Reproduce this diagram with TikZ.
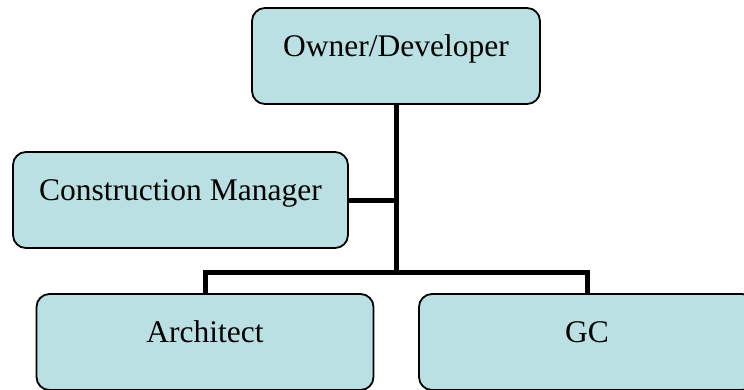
\documentclass[tikz,border=0pt]{standalone}
\usepackage{fontspec}
\setmainfont{Liberation Serif}
\usepackage{tikz}
\usetikzlibrary{positioning}

\definecolor{boxfill}{RGB}{186,224,227}
\tikzset{
    orgbox/.style = {draw, rectangle, rounded corners = 13pt, line width = 1.8pt,
                     fill = boxfill, inner sep = 0pt, text height = 48pt,
                     text depth = 48pt, font = \fontsize{31.5}{36}\selectfont},
    orgline/.style = {line width = 5pt, line join = miter}
}

\begin{document}
\begin{tikzpicture}[x = 1pt, y = -1pt]
        \useasboundingbox (0, 0) rectangle (744, 389);

        \node [orgbox, minimum width = 288pt] (owner) at (396, 56) {Owner/Developer};
        \node [orgbox, minimum width = 335pt] (cm) at (180.5, 200) {Construction Manager};
        \node [orgbox, minimum width = 337pt] (arch) at (205, 342) {Architect};
        \node [orgbox, minimum width = 336pt] (gc) at (587, 342) {GC};

        \coordinate (junc) at (396, 272);

        \draw [orgline] (owner.south) -- (junc);
        \draw [orgline] (cm.east) -- (cm.east -| junc);
        \draw [orgline] (arch.north) -- (arch.north |- junc) -- (gc.north |- junc) -- (gc.north);
    \end{tikzpicture}
\end{document}
